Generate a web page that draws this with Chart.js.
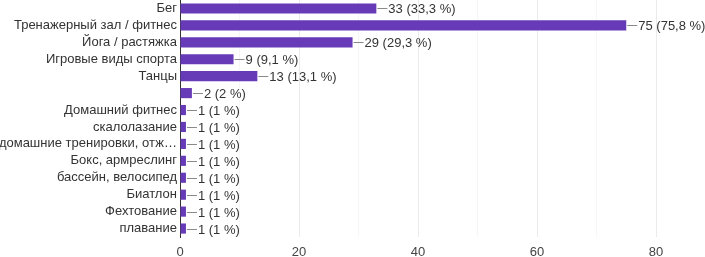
<!DOCTYPE html>
<html>
<head>
<meta charset="utf-8">
<script src="https://cdn.jsdelivr.net/npm/chart.js@4"></script>
<style>
  html, body { margin: 0; padding: 0; background: #fff; }
  #wrap { width: 705px; height: 257px; }
</style>
</head>
<body>
<div id="wrap"><canvas id="sportChart"></canvas></div>
<script>
// answers and counts
const categories = [
  'Бег',
  'Тренажерный зал / фитнес',
  'Йога / растяжка',
  'Игровые виды спорта',
  'Танцы',
  '',
  'Домашний фитнес',
  'скалолазание',
  'домашние тренировки, отж…',
  'Бокс, армреслинг',
  'бассейн, велосипед',
  'Биатлон',
  'Фехтование',
  'плавание'
]
const counts = [33, 75, 29, 9, 13, 2, 1, 1, 1, 1, 1, 1, 1, 1]
const percents = ['33,3', '75,8', '29,3', '9,1', '13,1', '2', '1', '1', '1', '1', '1', '1', '1', '1']
const xTicks = [0, 20, 40, 60, 80]

const FONT = '"Liberation Sans", Arial, sans-serif'

// little line + "n (p %)" after each bar
const valueLabels = {
  id: 'valueLabels',
  afterDatasetsDraw(chart) {
    const ctx = chart.ctx
    const meta = chart.getDatasetMeta(0)
    ctx.save()
    ctx.font = '13px ' + FONT
    ctx.textBaseline = 'middle'
    meta.data.forEach((bar, i) => {
      const x = bar.x
      const y = Math.round(bar.y)
      ctx.strokeStyle = '#8a8a8a'
      ctx.lineWidth = 1
      ctx.beginPath()
      ctx.moveTo(x + 1, y + 0.5)
      ctx.lineTo(x + 11, y + 0.5)
      ctx.stroke()
      ctx.fillStyle = '#333'
      ctx.fillText(counts[i] + ' (' + percents[i] + ' %)', x + 12, y + 1)
    })
    ctx.restore()
  }
}

const ctx = document.getElementById('sportChart').getContext('2d')
const sportChart = new Chart(ctx, {
  type: 'bar',
  data: {
    labels: categories,
    datasets: [{
      data: counts,
      backgroundColor: '#673ab7',
      barPercentage: 0.6,
      categoryPercentage: 1
    }]
  },
  options: {
    indexAxis: 'y',
    responsive: true,
    maintainAspectRatio: false,
    animation: false,
    layout: { padding: { top: 0, right: 49, bottom: 0, left: 0 } },
    plugins: {
      legend: { display: false },
      tooltip: { enabled: false }
    },
    scales: {
      x: {
        min: 0,
        max: 80,
        afterBuildTicks: (scale) => {
          const t = []
          for (let v = 0; v <= 80; v += 10) t.push({ value: v })
          scale.ticks = t
        },
        afterFit: (scale) => {
          scale.height = 20
          scale.paddingLeft = 0
          scale.paddingRight = 0
        },
        ticks: {
          autoSkip: false,
          maxRotation: 0,
          padding: 8,
          color: '#444',
          font: { family: FONT, size: 13 },
          callback: (v) => xTicks.includes(v) ? v : ''
        },
        grid: {
          drawTicks: false,
          color: (c) => (c.tick && c.tick.value % 20 === 0) ? '#ebebeb' : '#f6f6f6'
        },
        border: { display: false }
      },
      y: {
        afterFit: (scale) => {
          scale.width = 180
          scale.paddingTop = 0
          scale.paddingBottom = 0
        },
        ticks: {
          padding: 3,
          color: '#333',
          font: { family: FONT, size: 13 },
          autoSkip: false
        },
        grid: { display: false, drawTicks: false },
        border: { display: true, color: '#333', width: 1 }
      }
    }
  },
  plugins: [valueLabels]
})
</script>
</body>
</html>
